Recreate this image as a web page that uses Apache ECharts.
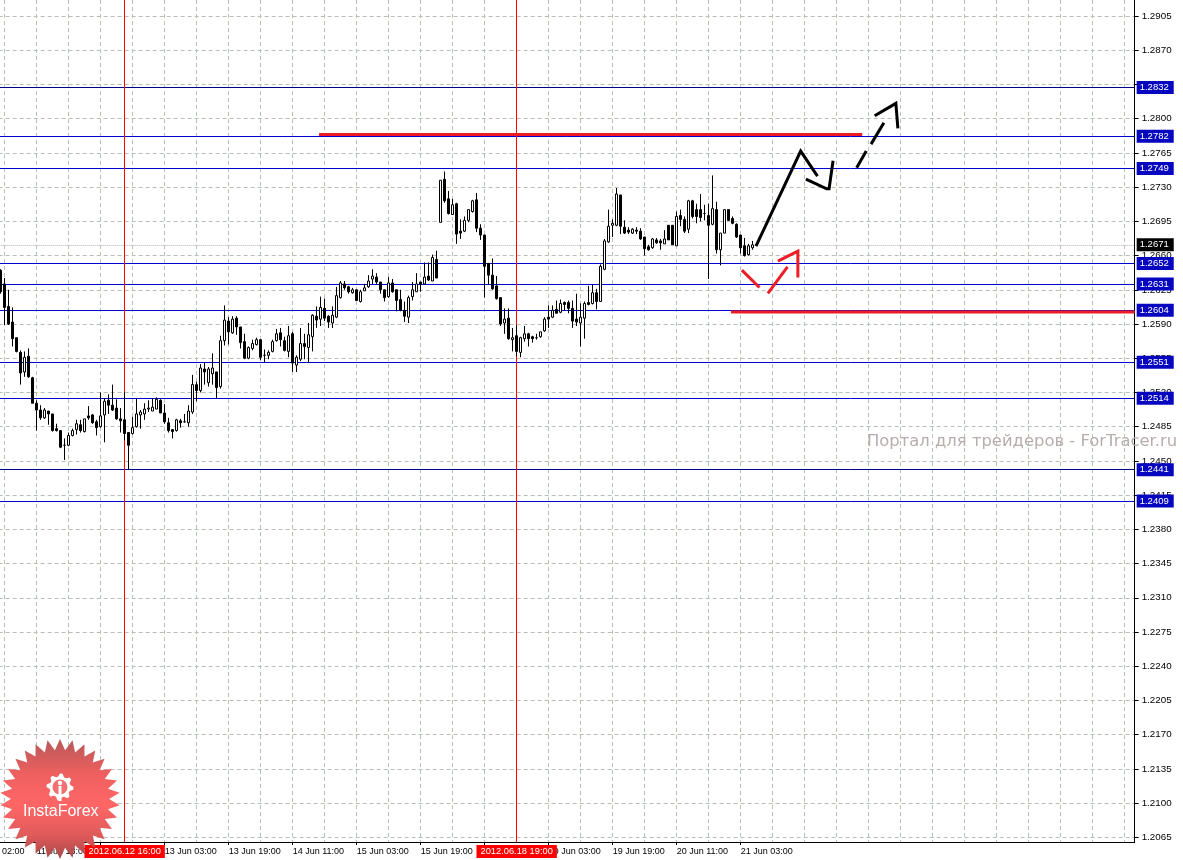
<!DOCTYPE html>
<html>
<head>
<meta charset="utf-8">
<script src="https://cdn.jsdelivr.net/npm/echarts@6/dist/echarts.min.js"></script>
<style>html,body{margin:0;padding:0;background:#fff}#c{width:1183px;height:860px}</style>
</head>
<body>
<div id="c"></div>
<script>
const opens = [1.2644,1.2630,1.2607,1.2591,1.2575,1.2560,1.2540,1.2556,1.2534,1.2508,
1.2501,1.2493,1.2500,1.2497,1.2482,1.2480,1.2465,1.2465,1.2475,1.2481,
1.2486,1.2479,1.2495,1.2496,1.2489,1.2484,1.2496,1.2511,1.2506,1.2503,
1.2492,1.2491,1.2478,1.2477,1.2484,1.2496,1.2497,1.2502,1.2500,1.2502,
1.2511,1.2498,1.2488,1.2481,1.2480,1.2490,1.2489,1.2488,1.2499,1.2527,
1.2521,1.2543,1.2529,1.2538,1.2540,1.2525,1.2572,1.2592,1.2580,1.2595,
1.2586,1.2571,1.2554,1.2564,1.2568,1.2573,1.2557,1.2557,1.2561,1.2572,
1.2580,1.2572,1.2561,1.2579,1.2547,1.2553,1.2569,1.2565,1.2576,1.2597,
1.2594,1.2605,1.2597,1.2590,1.2596,1.2616,1.2630,1.2627,1.2621,1.2624,
1.2612,1.2623,1.2627,1.2635,1.2637,1.2632,1.2624,1.2617,1.2631,1.2624,
1.2614,1.2603,1.2596,1.2617,1.2622,1.2632,1.2630,1.2638,1.2633,1.2655,
1.2693,1.2737,1.2717,1.2701,1.2712,1.2684,1.2684,1.2695,1.2704,1.2716,
1.2687,1.2680,1.2651,1.2639,1.2628,1.2616,1.2590,1.2595,1.2573,1.2577,
1.2560,1.2574,1.2579,1.2576,1.2575,1.2576,1.2582,1.2596,1.2596,1.2604,
1.2601,1.2611,1.2611,1.2605,1.2594,1.2590,1.2595,1.2611,1.2610,1.2621,
1.2612,1.2645,1.2673,1.2690,1.2690,1.2721,1.2688,1.2685,1.2682,1.2685,
1.2684,1.2678,1.2668,1.2667,1.2675,1.2674,1.2671,1.2690,1.2690,1.2669,
1.2700,1.2696,1.2686,1.2715,1.2706,1.2706,1.2702,1.2700,1.2691,1.2706,
1.2665,1.2682,1.2706,1.2697,1.2691,1.2680,1.2669,1.2660,1.2667];
const closes = [1.2622,1.2606,1.2589,1.2574,1.2561,1.2539,1.2555,1.2535,1.2508,1.2501,
1.2493,1.2501,1.2497,1.2480,1.2480,1.2463,1.2465,1.2475,1.2480,1.2487,
1.2480,1.2492,1.2493,1.2488,1.2483,1.2495,1.2510,1.2506,1.2501,1.2492,
1.2490,1.2477,1.2465,1.2483,1.2497,1.2499,1.2502,1.2503,1.2504,1.2512,
1.2498,1.2489,1.2480,1.2479,1.2491,1.2488,1.2489,1.2500,1.2527,1.2521,
1.2544,1.2540,1.2543,1.2544,1.2524,1.2572,1.2593,1.2581,1.2594,1.2586,
1.2570,1.2554,1.2565,1.2569,1.2573,1.2555,1.2557,1.2560,1.2571,1.2579,
1.2573,1.2562,1.2577,1.2549,1.2555,1.2569,1.2566,1.2578,1.2598,1.2593,
1.2606,1.2595,1.2591,1.2598,1.2618,1.2631,1.2626,1.2622,1.2624,1.2613,
1.2622,1.2626,1.2633,1.2638,1.2632,1.2624,1.2616,1.2631,1.2622,1.2613,
1.2603,1.2597,1.2616,1.2624,1.2630,1.2630,1.2637,1.2634,1.2657,1.2636,
1.2736,1.2715,1.2702,1.2711,1.2681,1.2682,1.2695,1.2706,1.2715,1.2687,
1.2680,1.2648,1.2639,1.2625,1.2615,1.2589,1.2594,1.2574,1.2575,1.2561,
1.2575,1.2579,1.2574,1.2574,1.2575,1.2581,1.2594,1.2594,1.2603,1.2600,
1.2610,1.2609,1.2605,1.2592,1.2591,1.2596,1.2610,1.2609,1.2621,1.2612,
1.2648,1.2674,1.2689,1.2692,1.2722,1.2689,1.2682,1.2683,1.2686,1.2684,
1.2676,1.2666,1.2665,1.2676,1.2672,1.2672,1.2676,1.2675,1.2670,1.2699,
1.2696,1.2684,1.2715,1.2699,1.2699,1.2698,1.2702,1.2690,1.2707,1.2665,
1.2682,1.2706,1.2695,1.2692,1.2678,1.2667,1.2659,1.2669,1.2670];
const lows = [1.2620,1.2588,1.2588,1.2566,1.2560,1.2527,1.2535,1.2534,1.2508,1.2480,
1.2491,1.2492,1.2486,1.2479,1.2479,1.2462,1.2450,1.2464,1.2474,1.2476,
1.2478,1.2478,1.2491,1.2487,1.2475,1.2483,1.2468,1.2497,1.2500,1.2491,
1.2478,1.2470,1.2440,1.2476,1.2483,1.2482,1.2491,1.2499,1.2500,1.2502,
1.2498,1.2487,1.2478,1.2472,1.2479,1.2483,1.2488,1.2484,1.2497,1.2510,
1.2519,1.2527,1.2525,1.2527,1.2513,1.2523,1.2567,1.2568,1.2579,1.2578,
1.2564,1.2553,1.2553,1.2562,1.2567,1.2552,1.2550,1.2553,1.2560,1.2571,
1.2566,1.2561,1.2555,1.2540,1.2540,1.2551,1.2553,1.2549,1.2561,1.2585,
1.2587,1.2592,1.2585,1.2585,1.2595,1.2615,1.2624,1.2620,1.2620,1.2613,
1.2611,1.2623,1.2626,1.2630,1.2630,1.2620,1.2612,1.2616,1.2621,1.2602,
1.2602,1.2591,1.2590,1.2613,1.2622,1.2622,1.2629,1.2633,1.2633,1.2636,
1.2693,1.2713,1.2701,1.2701,1.2671,1.2676,1.2683,1.2693,1.2703,1.2683,
1.2675,1.2616,1.2629,1.2624,1.2614,1.2587,1.2579,1.2573,1.2561,1.2556,
1.2555,1.2571,1.2566,1.2570,1.2573,1.2575,1.2581,1.2585,1.2595,1.2600,
1.2600,1.2603,1.2600,1.2585,1.2587,1.2566,1.2574,1.2608,1.2609,1.2604,
1.2612,1.2644,1.2672,1.2678,1.2689,1.2681,1.2681,1.2681,1.2681,1.2681,
1.2675,1.2659,1.2664,1.2666,1.2671,1.2665,1.2671,1.2675,1.2670,1.2669,
1.2689,1.2682,1.2682,1.2697,1.2692,1.2694,1.2695,1.2635,1.2690,1.2661,
1.2649,1.2682,1.2695,1.2691,1.2677,1.2661,1.2658,1.2659,1.2665];
const highs = [1.2645,1.2636,1.2624,1.2606,1.2575,1.2562,1.2561,1.2564,1.2535,1.2511,
1.2506,1.2503,1.2500,1.2497,1.2487,1.2480,1.2472,1.2478,1.2482,1.2491,
1.2491,1.2492,1.2505,1.2497,1.2491,1.2519,1.2513,1.2517,1.2527,1.2512,
1.2503,1.2519,1.2478,1.2494,1.2513,1.2501,1.2508,1.2511,1.2513,1.2514,
1.2512,1.2507,1.2493,1.2481,1.2492,1.2492,1.2497,1.2506,1.2537,1.2530,
1.2548,1.2550,1.2545,1.2559,1.2540,1.2577,1.2608,1.2596,1.2597,1.2597,
1.2586,1.2579,1.2566,1.2573,1.2575,1.2573,1.2563,1.2562,1.2573,1.2584,
1.2585,1.2576,1.2587,1.2581,1.2557,1.2585,1.2579,1.2590,1.2599,1.2607,
1.2617,1.2615,1.2598,1.2607,1.2627,1.2633,1.2633,1.2628,1.2626,1.2624,
1.2624,1.2630,1.2639,1.2645,1.2641,1.2632,1.2624,1.2637,1.2635,1.2624,
1.2624,1.2612,1.2618,1.2632,1.2641,1.2632,1.2652,1.2652,1.2660,1.2664,
1.2736,1.2745,1.2725,1.2717,1.2713,1.2696,1.2699,1.2706,1.2716,1.2723,
1.2691,1.2680,1.2651,1.2656,1.2638,1.2616,1.2605,1.2605,1.2585,1.2588,
1.2576,1.2587,1.2580,1.2577,1.2579,1.2581,1.2596,1.2608,1.2608,1.2613,
1.2614,1.2612,1.2613,1.2613,1.2620,1.2610,1.2612,1.2628,1.2629,1.2625,
1.2650,1.2676,1.2706,1.2696,1.2728,1.2721,1.2695,1.2688,1.2687,1.2688,
1.2687,1.2678,1.2670,1.2677,1.2677,1.2676,1.2685,1.2690,1.2690,1.2704,
1.2706,1.2699,1.2716,1.2716,1.2712,1.2722,1.2711,1.2712,1.2741,1.2714,
1.2682,1.2706,1.2706,1.2699,1.2692,1.2680,1.2677,1.2671,1.2674];
// one-pip reading correction applied to all four price lists
const readingCorrection = 0.0001;

const priceTicks = [1.2065,1.2100,1.2135,1.2170,1.2205,1.2240,1.2275,1.2310,1.2345,1.2380,1.2415,1.2450,1.2485,1.2520,1.2555,1.2590,1.2625,1.2660,1.2695,1.2730,1.2765,1.2800,1.2835,1.2870,1.2905];
const levelsBlue = [1.2782,1.2749,1.2652,1.2631,1.2604,1.2551,1.2514,1.2409];
const levelsDark = [1.2832,1.2441];
const lastPrice = [1.2671];
const slotCount = 284;
const timeLabels = {9:'11 Jun 18:00',41:'13 Jun 03:00',57:'13 Jun 19:00',73:'14 Jun 11:00',89:'15 Jun 03:00',105:'15 Jun 19:00',137:'19 Jun 03:00',153:'19 Jun 19:00',169:'20 Jun 11:00',185:'21 Jun 03:00'};
const marks = [[31,'2012.06.12 16:00'],[129,'2012.06.18 19:00']];
const blackStrokes = [
 [[189.33,1.26697],[200.5,1.27669],[204.7,1.27413]],
 [[201.8,1.27382],[207,1.27283],[207.6,1.27283],[208.6,1.27569]],
 [[214.5,1.27498],[216.9,1.27669]],
 [[218.1,1.2774],[221.3,1.27958]],
 [[219,1.2803],[224.3,1.28157],[224.8,1.27901]]
];
const redStrokes = [
 [[185.8,1.26451],[190.2,1.26274]],
 [[192.3,1.26213],[197.2,1.26485]],
 [[194.8,1.26543],[199.8,1.26646],[199.8,1.26376]]
];
const targetBars = [
 [[80.1,1.27838],[215.9,1.27838]],
 [[183.1,1.26022],[284,1.26022]]
];

const categories = Array.from({length:slotCount},(_,i)=>timeLabels[i]||String(i));
const candleData = opens.map((o,i)=>[o,closes[i],lows[i],highs[i]].map(v=>v+readingCorrection));
const FONT = 'Liberation Sans';
const levelSeries = (vals,line,bg,type)=>({
  type:'line',xAxisIndex:0,yAxisIndex:0,data:[],silent:true,z:3,
  markLine:{silent:true,symbol:'none',animation:false,precision:5,z:3,
    lineStyle:{color:line,width:1,type:type||'solid'},
    label:{show:true,position:'end',distance:2,color:'#fff',backgroundColor:bg,
      padding:[2,5,1,3],fontFamily:FONT,fontSize:9.5,formatter:(p)=>p.value.toFixed(4)},
    data:vals.map(v=>({yAxis:v}))}
});
const strokeSeries = (pts,color,width)=>({
  type:'line',xAxisIndex:1,yAxisIndex:0,data:pts,symbol:'none',silent:true,z:6,
  lineStyle:{color:color,width:width,cap:'butt',join:'miter'},animation:false
});

// Decorative badge
const cx=60,cy=799,teeth=30,gy=787;
const starPts=[];
for(let i=0;i<teeth*2;i++){const r=i%2?49:60;const a=Math.PI*i/teeth-Math.PI/2;starPts.push([cx+r*Math.cos(a),cy+r*Math.sin(a)]);}
const gearPts=[];
for(let i=0;i<32;i++){const r=[13.5,13.5,10.5,10.5][i%4];const a=Math.PI*2*i/32;gearPts.push([cx+r*Math.cos(a),gy+r*Math.sin(a)]);}

const chart=echarts.init(document.getElementById('c'),null,{renderer:'canvas'});
chart.setOption({
  animation:false,
  backgroundColor:'#fff',
  grid:{left:-1.33,top:0,width:1136,height:842,containLabel:false,outerBoundsMode:'none'},
  xAxis:[{
    type:'category',data:categories,boundaryGap:true,
    axisLine:{show:true,lineStyle:{color:'#000',width:1}},
    axisTick:{show:true,alignWithLabel:true,length:3,lineStyle:{color:'#000'},interval:(i)=>i%16===9&&i<=185},
    axisLabel:{show:true,align:'left',margin:5,color:'#000',fontFamily:FONT,fontSize:9,
      interval:(i)=>timeLabels[i]!==undefined,formatter:(v,i)=>timeLabels[i]||'',hideOverlap:false},
    splitLine:{show:true,alignWithLabel:true,interval:(i)=>i%8===1,lineStyle:{color:'#b6c4b6',type:[4,3],width:1}}
  },{
    type:'value',min:0,max:slotCount,show:false,position:'top'
  }],
  yAxis:{
    type:'value',position:'right',min:1.20602,max:1.29214,scale:true,
    axisLine:{show:true,onZero:false,lineStyle:{color:'#000',width:1}},
    axisTick:{show:true,length:4,customValues:priceTicks,lineStyle:{color:'#000'}},
    axisLabel:{show:true,margin:7,customValues:priceTicks,color:'#000',fontFamily:FONT,fontSize:9.8,formatter:(v)=>v.toFixed(4)},
    splitLine:{show:true,lineStyle:{color:'#b8bfb8',type:[4,3],width:1}}
  },
  series:[{
    type:'candlestick',name:'EURUSD',xAxisIndex:0,yAxisIndex:0,data:candleData,barWidth:3,z:4,silent:true,
    itemStyle:{color:'#fff',color0:'#000',borderColor:'#000',borderColor0:'#000',borderWidth:1}
  },
  levelSeries(levelsBlue,'#0000d0','#0606c0'),
  levelSeries(levelsDark,'#000088','#0606c0'),
  levelSeries(lastPrice,'#b8b0b8','#000','dotted'),
  {type:'line',xAxisIndex:0,yAxisIndex:0,data:[],silent:true,z:3,
   markLine:{silent:true,symbol:'none',animation:false,z:3,
     lineStyle:{color:'#ff0000',width:1,type:'solid'},
     label:{show:true,position:'start',distance:3,color:'#fff',backgroundColor:'#ff0000',
       padding:[2,4,2,4],fontFamily:FONT,fontSize:9.3},
     data:marks.map(m=>({xAxis:m[0],label:{formatter:m[1]}}))}},
  ...targetBars.map(p=>strokeSeries(p,'#ee1c25',3)),
  ...blackStrokes.map(p=>strokeSeries(p,'#000',3)),
  ...redStrokes.map(p=>strokeSeries(p,'#ee1c25',3))
  ],
  graphic:[
    {type:'text',silent:true,z:50,left:2,top:847,style:{text:'02:00',fill:'#000',font:'9px "Liberation Sans"'}},
    {type:'text',silent:true,z:50,left:867,top:434,style:{text:'Портал для трейдеров - ForTracer.ru',fill:'#b8adad',font:'16.4px "DejaVu Sans"'}},
    {type:'polygon',silent:true,z:100,opacity:0.82,shape:{points:starPts},
      style:{fill:new echarts.graphic.LinearGradient(0,0,0,1,[
        {offset:0,color:'#b85858'},{offset:0.3,color:'#f06060'},{offset:0.55,color:'#ff6666'},{offset:0.8,color:'#e05a5a'},{offset:1,color:'#a84848'}])}},
    {type:'polygon',silent:true,z:101,shape:{points:gearPts},style:{fill:'#fff'}},
    {type:'circle',silent:true,z:102,shape:{cx:cx,cy:gy,r:7.5},style:{fill:'#f27070'}},
    {type:'rect',silent:true,z:103,shape:{x:cx-1.5,y:gy-1,width:3,height:15},style:{fill:'#fff'}},
    {type:'circle',silent:true,z:103,shape:{cx:cx,cy:gy-4,r:2.2},style:{fill:'#fff'}},
    {type:'text',silent:true,z:104,left:23,top:804,style:{text:'InstaForex',fill:'#fff',font:'16px "Liberation Sans"'}}
  ]
});
</script>
</body>
</html>
